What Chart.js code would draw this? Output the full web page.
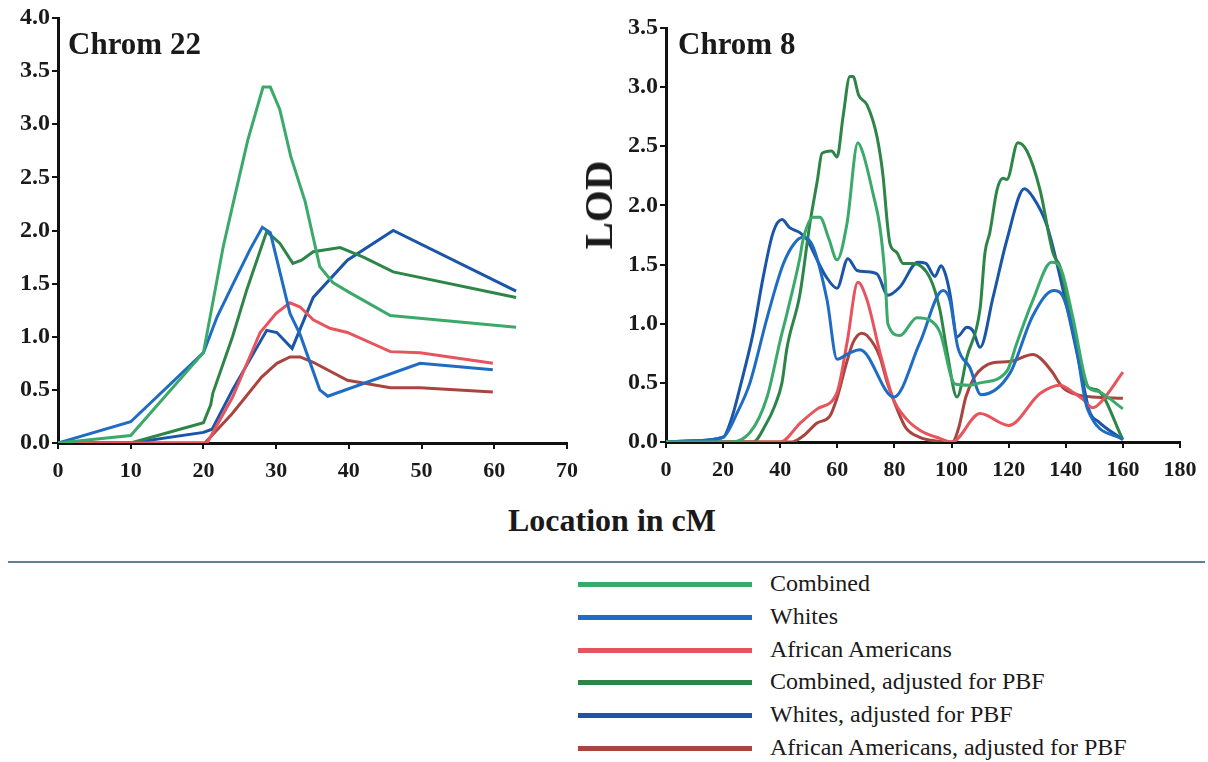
<!DOCTYPE html>
<html>
<head>
<meta charset="utf-8">
<script src="https://cdn.jsdelivr.net/npm/chart.js@4.4.1/dist/chart.umd.min.js"></script>
<style>
  html, body { margin: 0; padding: 0; background: #fff; }
  #page { position: relative; width: 1208px; height: 762px; overflow: hidden; font-family: 'Liberation Serif', 'Times New Roman', serif; color: #1a1a1a; }
  .box { position: absolute; top: 0; height: 500px; }
  .chrom { position: absolute; top: 26px; font-weight: bold; font-size: 31px; }
  #lod { position: absolute; left: 598px; top: 205px; font-weight: bold; font-size: 41px; transform: translate(-50%, -50%) rotate(-90deg); }
  #xtitle { position: absolute; left: 0; width: 1224px; top: 502px; text-align: center; font-weight: bold; font-size: 32px; }
  #rule { position: absolute; left: 8px; width: 1197px; top: 561px; height: 2px; background: #5f8290; }
  #legend { position: absolute; left: 578px; top: 568px; }
  .row { position: absolute; left: 0; height: 32px; width: 600px; }
  .row i { position: absolute; left: 0; top: 14px; width: 174px; height: 5px; }
  .row span { position: absolute; left: 192px; top: 2px; font-family: 'Liberation Serif', serif; font-size: 24px; white-space: nowrap; }
</style>
</head>
<body>
<div id="page">
  <div class="box" style="left:0;width:590px"><canvas id="chrom22"></canvas></div>
  <div class="box" style="left:610px;width:598px"><canvas id="chrom8"></canvas></div>
  <div class="chrom" style="left:68px">Chrom 22</div>
  <div class="chrom" style="left:678px">Chrom 8</div>
  <div id="lod">LOD</div>
  <div id="xtitle">Location in cM</div>
  <div id="rule"></div>
  <div id="legend"></div>
</div>
<script>
// series names + colours (legend order)
const seriesNames = ['Combined', 'Whites', 'African Americans', 'Combined, adjusted for PBF', 'Whites, adjusted for PBF', 'African Americans, adjusted for PBF'];
const seriesColors = ['#3aa96a', '#1f6cc4', '#e8545e', '#2e8548', '#1b55a8', '#a8453f'];

// ---- Chrom 22 (cM, LOD) ----
const c22CombX = [0, 10, 20, 22.7, 24.1, 26.1, 28.2, 29.2, 30.5, 32, 34, 36, 37.8, 40, 45.7, 63];
const c22CombY = [0, 0.07, 0.85, 1.84, 2.26, 2.85, 3.35, 3.35, 3.14, 2.7, 2.27, 1.66, 1.51, 1.42, 1.2, 1.09];
const c22WhiteX = [0, 10, 20, 21.9, 24.1, 26.4, 28.1, 29.2, 31.9, 33.3, 36, 37.1, 49.8, 59.8];
const c22WhiteY = [0, 0.2, 0.85, 1.19, 1.5, 1.82, 2.03, 1.98, 1.22, 1.02, 0.5, 0.44, 0.75, 0.69];
const c22AfrX = [0, 10, 20.5, 24, 27.8, 30, 31.9, 33.3, 35.1, 37.4, 39.8, 45.7, 49.8, 59.8];
const c22AfrY = [0, 0, 0, 0.43, 1.04, 1.22, 1.32, 1.28, 1.16, 1.08, 1.04, 0.86, 0.85, 0.75];
const c22CombAdjX = [0, 10, 20, 21, 21.3, 24, 26, 28.7, 30.5, 32.3, 33.5, 35.1, 38.8, 42, 46.1, 63];
const c22CombAdjY = [0, 0, 0.19, 0.36, 0.47, 1.0, 1.45, 1.99, 1.88, 1.69, 1.72, 1.8, 1.84, 1.75, 1.61, 1.37];
const c22WhiteAdjX = [0, 10, 20, 21.2, 24, 28.7, 30.1, 32.2, 35.1, 39.8, 46.1, 63];
const c22WhiteAdjY = [0, 0, 0.1, 0.13, 0.5, 1.06, 1.04, 0.89, 1.37, 1.72, 2.0, 1.43];
const c22AfrAdjX = [0, 10, 20.2, 24, 28, 30.1, 31.9, 33.3, 35.1, 39.8, 45.7, 49.8, 59.8];
const c22AfrAdjY = [0, 0, 0, 0.28, 0.62, 0.75, 0.81, 0.81, 0.76, 0.59, 0.52, 0.52, 0.48];

// ---- Chrom 8 (cM, LOD) ----
const c8CombX = [0, 21, 29.4, 35.4, 40, 42.4, 46.9, 48, 51.5, 53.9, 57, 59.9, 63.4, 67.2, 69, 72.5, 74.9, 76.7, 77.7, 81.9, 87.9, 92.4, 95.9, 101.2, 106.4, 110, 119.4, 122.9, 128.5, 135, 138.5, 142.5, 148, 151, 160];
const c8CombY = [0, 0, 0.08, 0.38, 0.86, 1.09, 1.56, 1.71, 1.9, 1.9, 1.72, 1.54, 1.85, 2.53, 2.44, 2.1, 1.82, 1.4, 1.0, 0.9, 1.05, 1.03, 0.93, 0.49, 0.48, 0.5, 0.6, 0.84, 1.2, 1.52, 1.45, 1.05, 0.46, 0.43, 0.28];
const c8WhiteX = [0, 10, 20, 25, 29.4, 35.4, 41, 45, 48, 51.5, 56.4, 59.9, 64, 67.9, 79.8, 88.9, 97, 99.4, 102.2, 106.4, 110.3, 120.4, 128.5, 135.8, 138.5, 143, 147.6, 160];
const c8WhiteY = [0, 0.01, 0.04, 0.25, 0.5, 1.05, 1.5, 1.68, 1.73, 1.65, 1.2, 0.7, 0.75, 0.78, 0.38, 0.84, 1.28, 1.2, 0.8, 0.63, 0.4, 0.58, 1.07, 1.28, 1.25, 0.89, 0.28, 0.02];
const c8AfrX = [0, 40, 47, 53, 59.9, 63.4, 67.2, 70.4, 74.9, 79.5, 84, 88.9, 95.9, 100.1, 110, 120, 131, 138, 142.5, 146, 149.5, 152, 160];
const c8AfrY = [0, 0, 0.16, 0.28, 0.42, 0.84, 1.35, 1.2, 0.76, 0.37, 0.2, 0.1, 0.03, 0, 0.24, 0.14, 0.41, 0.48, 0.42, 0.36, 0.29, 0.33, 0.59];
const c8CombAdjX = [0, 30.5, 35, 38, 40.6, 42.4, 46.9, 50.4, 53, 54.6, 58, 59.9, 62, 64.4, 65.5, 67.5, 70.4, 73.9, 76, 77.5, 78.4, 80.9, 83, 86.5, 92.4, 95.9, 98.5, 101.9, 105.4, 110, 111.7, 113.4, 115.9, 118, 119.4, 123.2, 126.4, 131, 135.5, 138, 142.5, 148, 151, 160];
const c8CombAdjY = [0, 0, 0.15, 0.3, 0.5, 0.8, 1.25, 1.85, 2.21, 2.44, 2.46, 2.41, 2.75, 3.09, 3.09, 2.93, 2.85, 2.58, 2.25, 1.85, 1.68, 1.6, 1.51, 1.51, 1.39, 1.12, 0.75, 0.38, 0.72, 1.13, 1.6, 1.77, 2.13, 2.23, 2.22, 2.53, 2.46, 2.13, 1.6, 1.48, 0.95, 0.46, 0.44, 0.02];
const c8WhiteAdjX = [0, 10, 20, 23, 25.9, 30.5, 34, 37.5, 40.6, 43.4, 46.9, 49.4, 52.9, 56, 59.9, 63.7, 66.9, 70, 73.9, 77.7, 81.9, 88.2, 91, 94.2, 96.3, 97.7, 99.4, 102, 105.4, 107.5, 110, 114.5, 119.4, 125.5, 128.5, 133.4, 140.4, 145, 148.3, 151.5, 160];
const c8WhiteAdjY = [0, 0.01, 0.04, 0.2, 0.46, 0.92, 1.39, 1.77, 1.88, 1.81, 1.77, 1.71, 1.54, 1.4, 1.3, 1.55, 1.45, 1.44, 1.42, 1.24, 1.31, 1.52, 1.51, 1.4, 1.49, 1.43, 1.26, 0.89, 0.97, 0.94, 0.8, 1.22, 1.71, 2.14, 2.07, 1.83, 1.14, 0.63, 0.26, 0.17, 0.02];
const c8AfrAdjX = [0, 44, 48, 52.9, 57.4, 60, 63, 65.5, 68.5, 70.4, 74.9, 77.5, 80.9, 84, 88.9, 94, 100.3, 102.5, 105, 108, 111, 114.5, 120.4, 128.5, 131, 135, 139, 144, 149.5, 160];
const c8AfrAdjY = [0, 0, 0.05, 0.16, 0.22, 0.38, 0.65, 0.84, 0.92, 0.9, 0.72, 0.5, 0.28, 0.12, 0.04, 0.01, 0, 0.12, 0.38, 0.55, 0.63, 0.67, 0.68, 0.74, 0.71, 0.6, 0.46, 0.4, 0.38, 0.37];

const c22Series = [[c22CombX, c22CombY], [c22WhiteX, c22WhiteY], [c22AfrX, c22AfrY], [c22CombAdjX, c22CombAdjY], [c22WhiteAdjX, c22WhiteAdjY], [c22AfrAdjX, c22AfrAdjY]];
const c8Series = [[c8CombX, c8CombY], [c8WhiteX, c8WhiteY], [c8AfrX, c8AfrY], [c8CombAdjX, c8CombAdjY], [c8WhiteAdjX, c8WhiteAdjY], [c8AfrAdjX, c8AfrAdjY]];

Chart.defaults.font.family = "'Liberation Serif', 'Times New Roman', serif";
Chart.defaults.color = '#1a1a1a';

const toPoints = (xs, ys) => xs.map((x, i) => ({ x, y: ys[i] }));

function makeChart(id, series, opts) {
  const datasets = series.map(([xs, ys], i) => ({
    label: seriesNames[i],
    data: toPoints(xs, ys),
    borderColor: seriesColors[i],
    borderWidth: 3,
    pointRadius: 0,
    fill: false,
    tension: 0,
    cubicInterpolationMode: opts.smooth ? 'monotone' : 'default',
  }));
  const axisLine = { display: true, color: '#111', width: 3 };
  const tickMarks = { drawOnChartArea: false, drawTicks: true, tickLength: 6, color: '#111', lineWidth: 2 };
  return new Chart(document.getElementById(id), {
    type: 'line',
    data: { datasets },
    options: {
      responsive: true,
      maintainAspectRatio: false,
      animation: false,
      layout: { padding: { top: opts.top, right: opts.right, left: 0, bottom: 0 } },
      plugins: { legend: { display: false }, tooltip: { enabled: false } },
      scales: {
        x: {
          type: 'linear', min: 0, max: opts.xMax,
          border: axisLine, grid: tickMarks,
          ticks: { stepSize: opts.xStep, autoSkip: false, maxRotation: 0, padding: 9, font: { size: 22, weight: 'bold' } },
          afterFit: (s) => { s.height = opts.xH; },
        },
        y: {
          min: 0, max: opts.yMax,
          border: axisLine, grid: tickMarks,
          ticks: { stepSize: 0.5, padding: 2, font: { size: 24, weight: 'bold' }, callback: (v) => v.toFixed(1) },
          afterFit: (s) => { s.width = opts.yW; },
        },
      },
    },
  });
}

makeChart('chrom22', c22Series, { xMax: 70, xStep: 10, yMax: 4, top: 18, right: 23, yW: 58, xH: 57, smooth: false });
makeChart('chrom8', c8Series, { xMax: 180, xStep: 20, yMax: 3.5, top: 28, right: 28, yW: 56, xH: 58, smooth: true });

// legend under the rule
const legend = document.getElementById('legend');
seriesNames.forEach((name, i) => {
  const row = document.createElement('div');
  row.className = 'row';
  row.style.top = (i * 32.8) + 'px';
  row.innerHTML = `<i style="background:${seriesColors[i]}"></i><span>${name}</span>`;
  legend.appendChild(row);
});
</script>
</body>
</html>
